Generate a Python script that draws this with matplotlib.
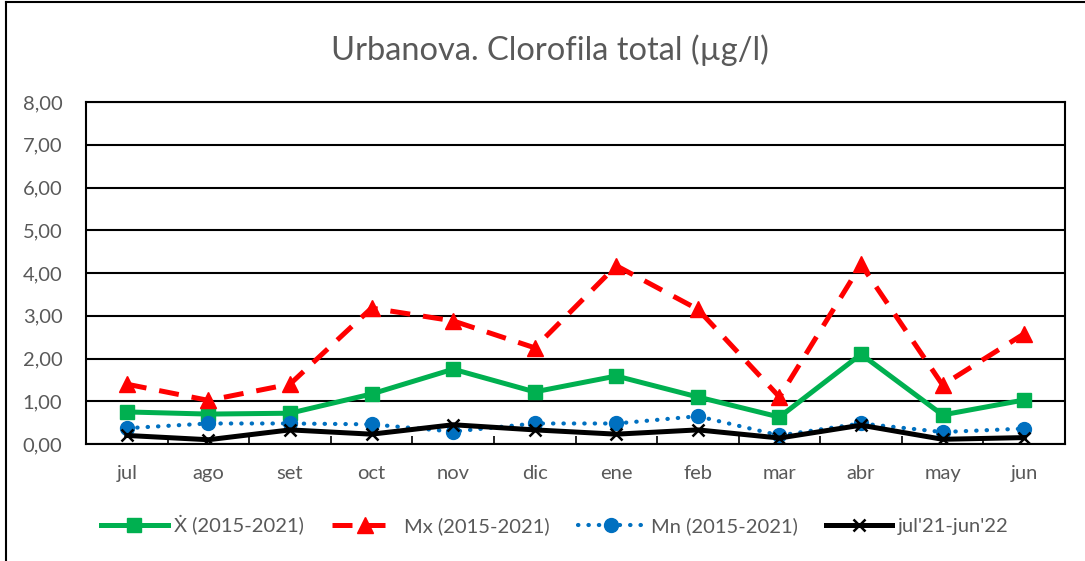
import matplotlib
matplotlib.use("Agg")
import matplotlib.pyplot as plt
from matplotlib.lines import Line2D

months = ["jul", "ago", "set", "oct", "nov", "dic", "ene", "feb", "mar", "abr", "may", "jun"]
mean_vals = [0.75, 0.70, 0.72, 1.17, 1.75, 1.22, 1.59, 1.10, 0.63, 2.10, 0.68, 1.03]
max_vals = [1.40, 1.02, 1.40, 3.18, 2.88, 2.25, 4.17, 3.15, 1.10, 4.20, 1.38, 2.58]
min_vals = [0.37, 0.48, 0.48, 0.46, 0.29, 0.48, 0.48, 0.65, 0.20, 0.48, 0.28, 0.36]
cur_vals = [0.20, 0.10, 0.33, 0.23, 0.45, 0.33, 0.23, 0.33, 0.14, 0.44, 0.11, 0.15]
labels = ["Ẋ (2015-2021)", "Mx (2015-2021)", "Mn (2015-2021)", "jul'21-jun'22"]
yticks = [0, 1, 2, 3, 4, 5, 6, 7, 8]

plt.rcParams['font.family'] = ['Lato', 'DejaVu Sans']
gray = '#595959'

fig = plt.figure(figsize=(10.85, 5.61), dpi=100)
W, H = 1085, 561
ax = fig.add_axes([86 / W, 1 - 444 / H, (1065 - 86) / W, (444 - 102) / H])

x = list(range(len(months)))
ax.plot(x, mean_vals, color='#00B050', lw=3.6, marker='s', ms=10, label=labels[0], zorder=4)
ax.plot(x, max_vals, color='#FF0000', lw=3.6, ls=(0, (4, 2.6)), marker='^', ms=11, label=labels[1], zorder=4)
ax.plot(x, min_vals, color='#0070C0', lw=3.0, ls=(0, (0.1, 2.4)), dash_capstyle='round', marker='o', ms=10, label=labels[2], zorder=4)
ax.plot(x, cur_vals, color='black', lw=3.6, marker='x', ms=9, mew=1.8, label=labels[3], zorder=5)

ax.set_xlim(-0.5, len(months) - 0.5)
ax.set_ylim(0, 8)
ax.set_yticks(yticks)
ax.set_yticklabels([f"{v:.2f}".replace('.', ',') for v in yticks])
ax.set_xticks(x)
ax.set_xticklabels(months)
ax.tick_params(axis='x', length=0, pad=15, labelsize=14.5, colors=gray)
ax.tick_params(axis='y', length=0, pad=17, labelsize=14.5, colors=gray)
for lbl in ax.get_xticklabels() + ax.get_yticklabels():
    lbl.set_color(gray)
ax.set_xticks([i + 0.5 for i in range(len(months) - 1)], minor=True)
ax.tick_params(axis='x', which='minor', direction='in', length=6, width=1.2, color='black')
ax.grid(axis='y', color='black', lw=1.5)
ax.set_axisbelow(True)
for s in ax.spines.values():
    s.set_color('black')
    s.set_linewidth(1.5)

fig.text(550 / W, 1 - 50 / H, "Urbanova. Clorofila total (µg/l)", ha='center', va='center',
         fontsize=23.5, color=gray)

leg = fig.legend(loc='center', bbox_to_anchor=(555 / W, 1 - 525 / H), ncol=4, frameon=False,
                 fontsize=14.5, handlelength=3.3, columnspacing=1.4, handletextpad=0.3)
for t in leg.get_texts():
    t.set_color(gray)

# outer chart border
fig.add_artist(Line2D([6 / W, 6 / W], [0, 1 - 2 / H], color='black', lw=1.5, transform=fig.transFigure))
fig.add_artist(Line2D([6 / W, 1], [1 - 2 / H, 1 - 2 / H], color='black', lw=1.5, transform=fig.transFigure))

fig.savefig('out.png', dpi=100)
